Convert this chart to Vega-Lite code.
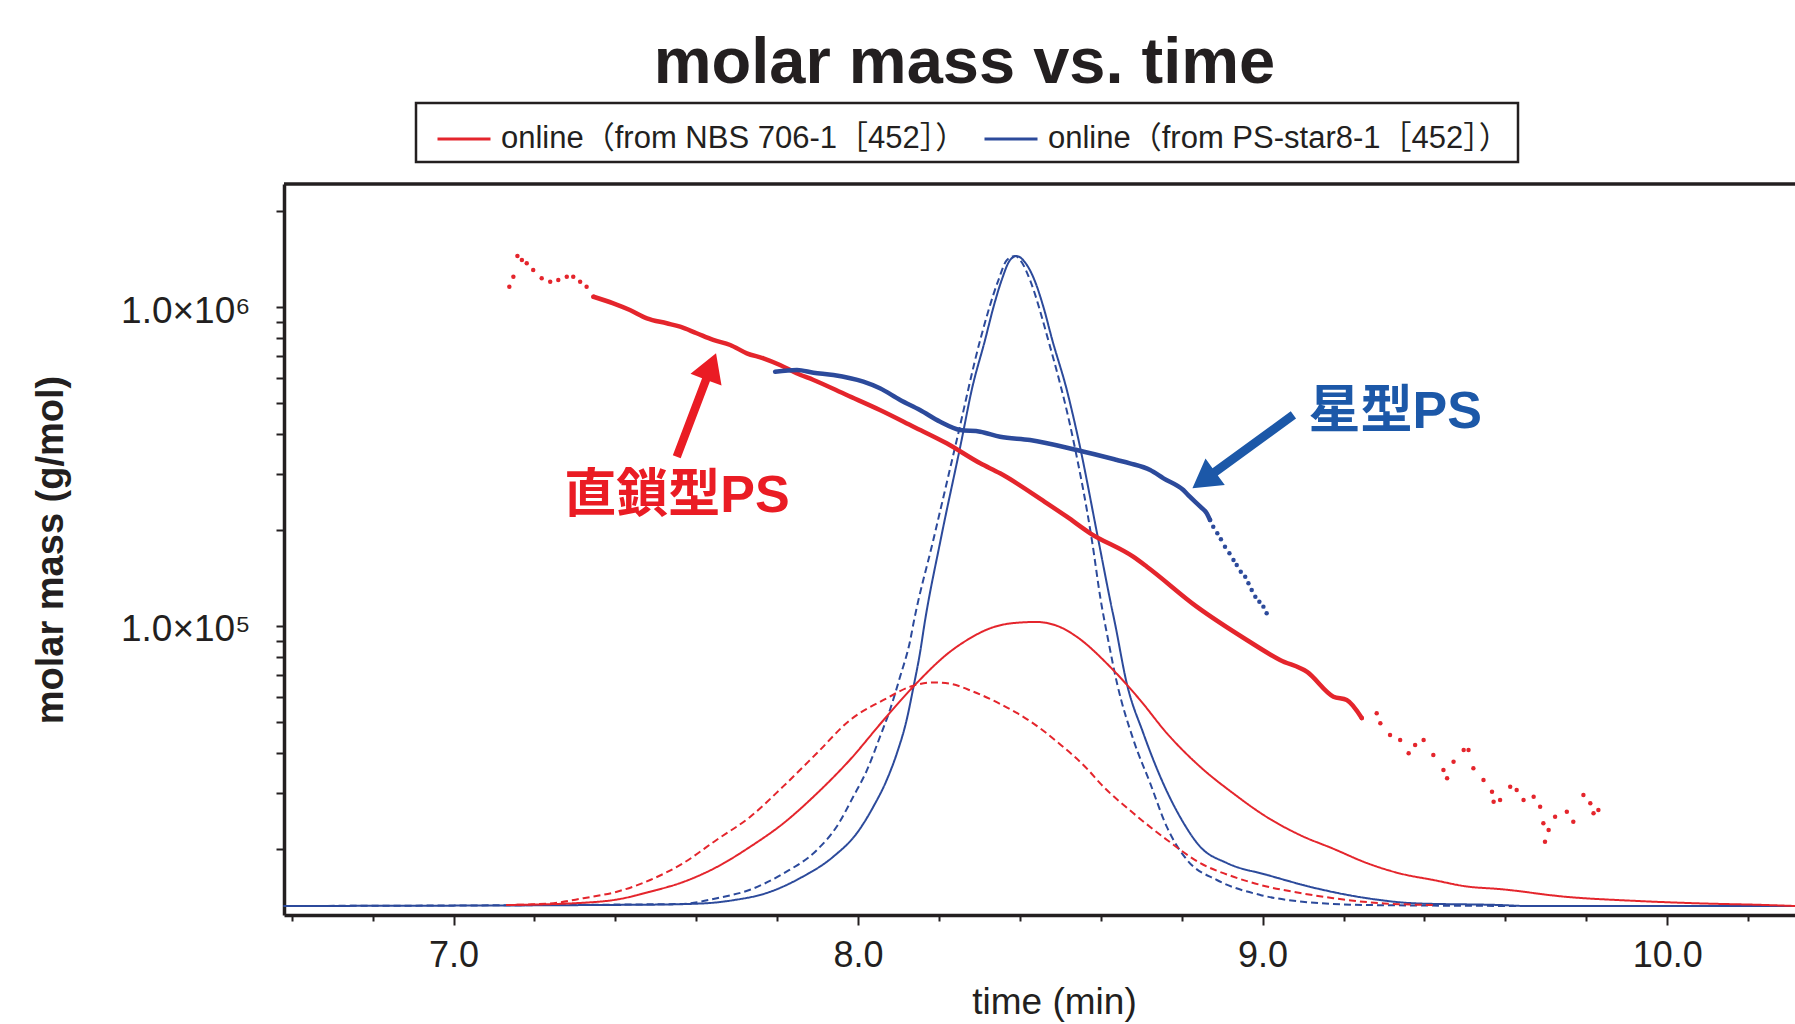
{
  "$schema": "https://vega.github.io/schema/vega-lite/v6.json",
  "width": 1511,
  "height": 731,
  "autosize": {"type": "none"},
  "padding": {"left": 284, "top": 184, "right": 0, "bottom": 109},
  "background": "white",
  "config": {"view": {"stroke": null}, "font": "Liberation Sans"},
  "title": {"text": "molar mass vs. time", "font": "Liberation Sans", "fontSize": 65, "fontWeight": "bold", "color": "#231f20", "anchor": "middle", "frame": "group", "dx": -75, "offset": 5},
  "datasets": {
    "sig": [
      {"sample":"PS-star8-1","trace":"A","t":6.58,"s":0},{"sample":"PS-star8-1","trace":"A","t":7.478,"s":0.002},{"sample":"PS-star8-1","trace":"A","t":7.618,"s":0.004},{"sample":"PS-star8-1","trace":"A","t":7.692,"s":0.009},{"sample":"PS-star8-1","trace":"A","t":7.774,"s":0.02},{"sample":"PS-star8-1","trace":"A","t":7.857,"s":0.043},{"sample":"PS-star8-1","trace":"A","t":7.939,"s":0.076},{"sample":"PS-star8-1","trace":"A","t":7.997,"s":0.112},{"sample":"PS-star8-1","trace":"A","t":8.038,"s":0.153},{"sample":"PS-star8-1","trace":"A","t":8.071,"s":0.194},{"sample":"PS-star8-1","trace":"A","t":8.096,"s":0.235},{"sample":"PS-star8-1","trace":"A","t":8.12,"s":0.286},{"sample":"PS-star8-1","trace":"A","t":8.137,"s":0.337},{"sample":"PS-star8-1","trace":"A","t":8.153,"s":0.389},{"sample":"PS-star8-1","trace":"A","t":8.165,"s":0.437},{"sample":"PS-star8-1","trace":"A","t":8.204,"s":0.563},{"sample":"PS-star8-1","trace":"A","t":8.256,"s":0.717},{"sample":"PS-star8-1","trace":"A","t":8.281,"s":0.794},{"sample":"PS-star8-1","trace":"A","t":8.314,"s":0.871},{"sample":"PS-star8-1","trace":"A","t":8.335,"s":0.922},{"sample":"PS-star8-1","trace":"A","t":8.355,"s":0.963},{"sample":"PS-star8-1","trace":"A","t":8.376,"s":0.994},{"sample":"PS-star8-1","trace":"A","t":8.392,"s":1.0},{"sample":"PS-star8-1","trace":"A","t":8.413,"s":0.99},{"sample":"PS-star8-1","trace":"A","t":8.438,"s":0.96},{"sample":"PS-star8-1","trace":"A","t":8.458,"s":0.922},{"sample":"PS-star8-1","trace":"A","t":8.48,"s":0.871},{"sample":"PS-star8-1","trace":"A","t":8.516,"s":0.794},{"sample":"PS-star8-1","trace":"A","t":8.545,"s":0.717},{"sample":"PS-star8-1","trace":"A","t":8.594,"s":0.563},{"sample":"PS-star8-1","trace":"A","t":8.623,"s":0.471},{"sample":"PS-star8-1","trace":"A","t":8.635,"s":0.435},{"sample":"PS-star8-1","trace":"A","t":8.664,"s":0.343},{"sample":"PS-star8-1","trace":"A","t":8.705,"s":0.266},{"sample":"PS-star8-1","trace":"A","t":8.747,"s":0.199},{"sample":"PS-star8-1","trace":"A","t":8.796,"s":0.137},{"sample":"PS-star8-1","trace":"A","t":8.846,"s":0.091},{"sample":"PS-star8-1","trace":"A","t":8.912,"s":0.066},{"sample":"PS-star8-1","trace":"A","t":9.01,"s":0.048},{"sample":"PS-star8-1","trace":"A","t":9.134,"s":0.027},{"sample":"PS-star8-1","trace":"A","t":9.258,"s":0.012},{"sample":"PS-star8-1","trace":"A","t":9.381,"s":0.004},{"sample":"PS-star8-1","trace":"A","t":9.587,"s":0.0015},{"sample":"PS-star8-1","trace":"A","t":9.654,"s":0},{"sample":"PS-star8-1","trace":"A","t":10.316,"s":0},
      {"sample":"PS-star8-1","trace":"B","t":6.58,"s":0},{"sample":"PS-star8-1","trace":"B","t":7.56,"s":0.003},{"sample":"PS-star8-1","trace":"B","t":7.651,"s":0.012},{"sample":"PS-star8-1","trace":"B","t":7.733,"s":0.025},{"sample":"PS-star8-1","trace":"B","t":7.815,"s":0.05},{"sample":"PS-star8-1","trace":"B","t":7.898,"s":0.086},{"sample":"PS-star8-1","trace":"B","t":7.947,"s":0.122},{"sample":"PS-star8-1","trace":"B","t":7.988,"s":0.168},{"sample":"PS-star8-1","trace":"B","t":8.022,"s":0.209},{"sample":"PS-star8-1","trace":"B","t":8.054,"s":0.26},{"sample":"PS-star8-1","trace":"B","t":8.079,"s":0.302},{"sample":"PS-star8-1","trace":"B","t":8.104,"s":0.353},{"sample":"PS-star8-1","trace":"B","t":8.129,"s":0.409},{"sample":"PS-star8-1","trace":"B","t":8.137,"s":0.435},{"sample":"PS-star8-1","trace":"B","t":8.186,"s":0.563},{"sample":"PS-star8-1","trace":"B","t":8.244,"s":0.717},{"sample":"PS-star8-1","trace":"B","t":8.302,"s":0.871},{"sample":"PS-star8-1","trace":"B","t":8.347,"s":0.963},{"sample":"PS-star8-1","trace":"B","t":8.368,"s":0.994},{"sample":"PS-star8-1","trace":"B","t":8.388,"s":1.0},{"sample":"PS-star8-1","trace":"B","t":8.405,"s":0.99},{"sample":"PS-star8-1","trace":"B","t":8.425,"s":0.963},{"sample":"PS-star8-1","trace":"B","t":8.47,"s":0.871},{"sample":"PS-star8-1","trace":"B","t":8.532,"s":0.717},{"sample":"PS-star8-1","trace":"B","t":8.578,"s":0.563},{"sample":"PS-star8-1","trace":"B","t":8.6,"s":0.47},{"sample":"PS-star8-1","trace":"B","t":8.618,"s":0.41},{"sample":"PS-star8-1","trace":"B","t":8.64,"s":0.343},{"sample":"PS-star8-1","trace":"B","t":8.681,"s":0.255},{"sample":"PS-star8-1","trace":"B","t":8.722,"s":0.189},{"sample":"PS-star8-1","trace":"B","t":8.763,"s":0.122},{"sample":"PS-star8-1","trace":"B","t":8.813,"s":0.071},{"sample":"PS-star8-1","trace":"B","t":8.887,"s":0.04},{"sample":"PS-star8-1","trace":"B","t":8.994,"s":0.017},{"sample":"PS-star8-1","trace":"B","t":9.093,"s":0.007},{"sample":"PS-star8-1","trace":"B","t":9.258,"s":0.0015},{"sample":"PS-star8-1","trace":"B","t":9.66,"s":0},
      {"sample":"NBS 706-1","trace":"A","t":7.13,"s":0.0015},{"sample":"NBS 706-1","trace":"A","t":7.321,"s":0.005},{"sample":"NBS 706-1","trace":"A","t":7.404,"s":0.01},{"sample":"NBS 706-1","trace":"A","t":7.486,"s":0.022},{"sample":"NBS 706-1","trace":"A","t":7.568,"s":0.037},{"sample":"NBS 706-1","trace":"A","t":7.651,"s":0.06},{"sample":"NBS 706-1","trace":"A","t":7.733,"s":0.091},{"sample":"NBS 706-1","trace":"A","t":7.815,"s":0.127},{"sample":"NBS 706-1","trace":"A","t":7.898,"s":0.173},{"sample":"NBS 706-1","trace":"A","t":7.98,"s":0.225},{"sample":"NBS 706-1","trace":"A","t":8.063,"s":0.286},{"sample":"NBS 706-1","trace":"A","t":8.145,"s":0.343},{"sample":"NBS 706-1","trace":"A","t":8.227,"s":0.391},{"sample":"NBS 706-1","trace":"A","t":8.269,"s":0.409},{"sample":"NBS 706-1","trace":"A","t":8.33,"s":0.428},{"sample":"NBS 706-1","trace":"A","t":8.38,"s":0.435},{"sample":"NBS 706-1","trace":"A","t":8.44,"s":0.437},{"sample":"NBS 706-1","trace":"A","t":8.5,"s":0.429},{"sample":"NBS 706-1","trace":"A","t":8.541,"s":0.414},{"sample":"NBS 706-1","trace":"A","t":8.623,"s":0.368},{"sample":"NBS 706-1","trace":"A","t":8.697,"s":0.317},{"sample":"NBS 706-1","trace":"A","t":8.763,"s":0.266},{"sample":"NBS 706-1","trace":"A","t":8.846,"s":0.214},{"sample":"NBS 706-1","trace":"A","t":8.928,"s":0.173},{"sample":"NBS 706-1","trace":"A","t":9.01,"s":0.137},{"sample":"NBS 706-1","trace":"A","t":9.093,"s":0.109},{"sample":"NBS 706-1","trace":"A","t":9.175,"s":0.088},{"sample":"NBS 706-1","trace":"A","t":9.258,"s":0.066},{"sample":"NBS 706-1","trace":"A","t":9.34,"s":0.05},{"sample":"NBS 706-1","trace":"A","t":9.422,"s":0.04},{"sample":"NBS 706-1","trace":"A","t":9.505,"s":0.03},{"sample":"NBS 706-1","trace":"A","t":9.587,"s":0.026},{"sample":"NBS 706-1","trace":"A","t":9.752,"s":0.014},{"sample":"NBS 706-1","trace":"A","t":9.917,"s":0.008},{"sample":"NBS 706-1","trace":"A","t":10.082,"s":0.004},{"sample":"NBS 706-1","trace":"A","t":10.246,"s":0.0015},{"sample":"NBS 706-1","trace":"A","t":10.316,"s":0},
      {"sample":"NBS 706-1","trace":"B","t":7.13,"s":0.0015},{"sample":"NBS 706-1","trace":"B","t":7.239,"s":0.004},{"sample":"NBS 706-1","trace":"B","t":7.321,"s":0.012},{"sample":"NBS 706-1","trace":"B","t":7.404,"s":0.022},{"sample":"NBS 706-1","trace":"B","t":7.486,"s":0.04},{"sample":"NBS 706-1","trace":"B","t":7.568,"s":0.066},{"sample":"NBS 706-1","trace":"B","t":7.651,"s":0.102},{"sample":"NBS 706-1","trace":"B","t":7.733,"s":0.137},{"sample":"NBS 706-1","trace":"B","t":7.815,"s":0.184},{"sample":"NBS 706-1","trace":"B","t":7.898,"s":0.235},{"sample":"NBS 706-1","trace":"B","t":7.98,"s":0.286},{"sample":"NBS 706-1","trace":"B","t":8.063,"s":0.317},{"sample":"NBS 706-1","trace":"B","t":8.137,"s":0.339},{"sample":"NBS 706-1","trace":"B","t":8.186,"s":0.344},{"sample":"NBS 706-1","trace":"B","t":8.227,"s":0.342},{"sample":"NBS 706-1","trace":"B","t":8.284,"s":0.33},{"sample":"NBS 706-1","trace":"B","t":8.351,"s":0.311},{"sample":"NBS 706-1","trace":"B","t":8.426,"s":0.284},{"sample":"NBS 706-1","trace":"B","t":8.497,"s":0.25},{"sample":"NBS 706-1","trace":"B","t":8.568,"s":0.21},{"sample":"NBS 706-1","trace":"B","t":8.598,"s":0.189},{"sample":"NBS 706-1","trace":"B","t":8.68,"s":0.143},{"sample":"NBS 706-1","trace":"B","t":8.763,"s":0.102},{"sample":"NBS 706-1","trace":"B","t":8.846,"s":0.066},{"sample":"NBS 706-1","trace":"B","t":8.928,"s":0.045},{"sample":"NBS 706-1","trace":"B","t":9.01,"s":0.03},{"sample":"NBS 706-1","trace":"B","t":9.093,"s":0.02},{"sample":"NBS 706-1","trace":"B","t":9.175,"s":0.012},{"sample":"NBS 706-1","trace":"B","t":9.299,"s":0.004},{"sample":"NBS 706-1","trace":"B","t":9.422,"s":0.0015}
    ],
    "mm": [
      {"sample":"NBS 706-1","t":7.138,"M":1158000},{"sample":"NBS 706-1","t":7.148,"M":1245000},{"sample":"NBS 706-1","t":7.158,"M":1445000},{"sample":"NBS 706-1","t":7.169,"M":1404000},{"sample":"NBS 706-1","t":7.181,"M":1371000},{"sample":"NBS 706-1","t":7.197,"M":1306000},{"sample":"NBS 706-1","t":7.218,"M":1230000},{"sample":"NBS 706-1","t":7.239,"M":1200000},{"sample":"NBS 706-1","t":7.259,"M":1215000},{"sample":"NBS 706-1","t":7.28,"M":1245000},{"sample":"NBS 706-1","t":7.296,"M":1245000},{"sample":"NBS 706-1","t":7.313,"M":1200000},{"sample":"NBS 706-1","t":7.329,"M":1158000},{"sample":"NBS 706-1","t":7.346,"M":1077000},{"sample":"NBS 706-1","t":7.395,"M":1027000},{"sample":"NBS 706-1","t":7.436,"M":978600},{"sample":"NBS 706-1","t":7.478,"M":921700},{"sample":"NBS 706-1","t":7.527,"M":889000},{"sample":"NBS 706-1","t":7.56,"M":867500},{"sample":"NBS 706-1","t":7.601,"M":827300},{"sample":"NBS 706-1","t":7.642,"M":788300},{"sample":"NBS 706-1","t":7.684,"M":760300},{"sample":"NBS 706-1","t":7.725,"M":715900},{"sample":"NBS 706-1","t":7.766,"M":690500},{"sample":"NBS 706-1","t":7.807,"M":658000},{"sample":"NBS 706-1","t":7.848,"M":619800},{"sample":"NBS 706-1","t":7.89,"M":590500},{"sample":"NBS 706-1","t":7.972,"M":529800},{"sample":"NBS 706-1","t":8.054,"M":475500},{"sample":"NBS 706-1","t":8.137,"M":421500},{"sample":"NBS 706-1","t":8.219,"M":373900},{"sample":"NBS 706-1","t":8.302,"M":323600},{"sample":"NBS 706-1","t":8.351,"M":301100},{"sample":"NBS 706-1","t":8.467,"M":242400},{"sample":"NBS 706-1","t":8.516,"M":220100},{"sample":"NBS 706-1","t":8.574,"M":195300},{"sample":"NBS 706-1","t":8.68,"M":164900},{"sample":"NBS 706-1","t":8.714,"M":153400},{"sample":"NBS 706-1","t":8.837,"M":115000},{"sample":"NBS 706-1","t":8.961,"M":90400},{"sample":"NBS 706-1","t":9.043,"M":78250},{"sample":"NBS 706-1","t":9.11,"M":71760},{"sample":"NBS 706-1","t":9.175,"M":60030},{"sample":"NBS 706-1","t":9.208,"M":58610},{"sample":"NBS 706-1","t":9.245,"M":51470},{"sample":"NBS 706-1","t":9.282,"M":53240},{"sample":"NBS 706-1","t":9.291,"M":49550},{"sample":"NBS 706-1","t":9.315,"M":45530},{"sample":"NBS 706-1","t":9.34,"M":43920},{"sample":"NBS 706-1","t":9.361,"M":39900},{"sample":"NBS 706-1","t":9.377,"M":42360},{"sample":"NBS 706-1","t":9.398,"M":43920},{"sample":"NBS 706-1","t":9.422,"M":39410},{"sample":"NBS 706-1","t":9.447,"M":35370},{"sample":"NBS 706-1","t":9.456,"M":33310},{"sample":"NBS 706-1","t":9.472,"M":37550},{"sample":"NBS 706-1","t":9.497,"M":40870},{"sample":"NBS 706-1","t":9.509,"M":40870},{"sample":"NBS 706-1","t":9.521,"M":35800},{"sample":"NBS 706-1","t":9.546,"M":32900},{"sample":"NBS 706-1","t":9.567,"M":30250},{"sample":"NBS 706-1","t":9.571,"M":28130},{"sample":"NBS 706-1","t":9.587,"M":28480},{"sample":"NBS 706-1","t":9.612,"M":31350},{"sample":"NBS 706-1","t":9.628,"M":30610},{"sample":"NBS 706-1","t":9.645,"M":28480},{"sample":"NBS 706-1","t":9.67,"M":29170},{"sample":"NBS 706-1","t":9.686,"M":27140},{"sample":"NBS 706-1","t":9.694,"M":24070},{"sample":"NBS 706-1","t":9.698,"M":21080},{"sample":"NBS 706-1","t":9.707,"M":22930},{"sample":"NBS 706-1","t":9.723,"M":25250},{"sample":"NBS 706-1","t":9.752,"M":26170},{"sample":"NBS 706-1","t":9.768,"M":24350},{"sample":"NBS 706-1","t":9.793,"M":29530},{"sample":"NBS 706-1","t":9.81,"M":27810},{"sample":"NBS 706-1","t":9.818,"M":25880},{"sample":"NBS 706-1","t":9.83,"M":26500},
      {"sample":"PS-star8-1","t":7.795,"M":627000},{"sample":"PS-star8-1","t":7.849,"M":634600},{"sample":"PS-star8-1","t":7.89,"M":622300},{"sample":"PS-star8-1","t":7.939,"M":612100},{"sample":"PS-star8-1","t":8.013,"M":583200},{"sample":"PS-star8-1","t":8.054,"M":556100},{"sample":"PS-star8-1","t":8.104,"M":511100},{"sample":"PS-star8-1","t":8.153,"M":475500},{"sample":"PS-star8-1","t":8.203,"M":436900},{"sample":"PS-star8-1","t":8.252,"M":411600},{"sample":"PS-star8-1","t":8.302,"M":406600},{"sample":"PS-star8-1","t":8.351,"M":392200},{"sample":"PS-star8-1","t":8.425,"M":382900},{"sample":"PS-star8-1","t":8.541,"M":356200},{"sample":"PS-star8-1","t":8.64,"M":331500},{"sample":"PS-star8-1","t":8.672,"M":323600},{"sample":"PS-star8-1","t":8.722,"M":308300},{"sample":"PS-star8-1","t":8.755,"M":290400},{"sample":"PS-star8-1","t":8.804,"M":266900},{"sample":"PS-star8-1","t":8.82,"M":254300},{"sample":"PS-star8-1","t":8.846,"M":236600},{"sample":"PS-star8-1","t":8.862,"M":225600},{"sample":"PS-star8-1","t":8.87,"M":214900},{"sample":"PS-star8-1","t":8.878,"M":204800},{"sample":"PS-star8-1","t":8.888,"M":195300},{"sample":"PS-star8-1","t":8.897,"M":187000},{"sample":"PS-star8-1","t":8.907,"M":177300},{"sample":"PS-star8-1","t":8.918,"M":169000},{"sample":"PS-star8-1","t":8.928,"M":161000},{"sample":"PS-star8-1","t":8.936,"M":155300},{"sample":"PS-star8-1","t":8.946,"M":148000},{"sample":"PS-star8-1","t":8.957,"M":142700},{"sample":"PS-star8-1","t":8.965,"M":136100},{"sample":"PS-star8-1","t":8.973,"M":129700},{"sample":"PS-star8-1","t":8.982,"M":123600},{"sample":"PS-star8-1","t":8.992,"M":119200},{"sample":"PS-star8-1","t":9.002,"M":115000},{"sample":"PS-star8-1","t":9.01,"M":109600}
    ]
  },
  "layer": [
    {
      "data": {"name": "sig"},
      "mark": {"type": "line", "strokeWidth": 2, "interpolate": "monotone"},
      "encoding": {
        "x": {"field": "t", "type": "quantitative", "scale": {"domain": [6.581, 10.316], "nice": false, "zero": false},
          "axis": {"orient": "bottom", "values": [6.6,6.8,7.0,7.2,7.4,7.6,7.8,8.0,8.2,8.4,8.6,8.8,9.0,9.2,9.4,9.6,9.8,10.0,10.2],
            "labelExpr": "abs(datum.value - round(datum.value)) < 0.01 ? format(datum.value, '.1f') : ''",
            "labelFont": "Liberation Sans", "labelFontSize": 36, "labelColor": "#231f20", "labelPadding": 13, "labelOverlap": false, "labelFlush": false,
            "tickSize": {"condition": {"test": "abs(datum.value - round(datum.value)) < 0.01", "value": 10}, "value": 6},
            "tickWidth": 2, "tickColor": "#231f20", "domainWidth": 3.5, "domainColor": "#231f20", "grid": false,
            "title": "time (min)", "titleFont": "Liberation Sans", "titleFontSize": 37, "titleFontWeight": "normal", "titleColor": "#231f20", "titlePadding": 11, "titleX": 770}},
        "y": {"field": "s", "type": "quantitative", "scale": {"domain": [-0.01385, 1.1108], "nice": false, "zero": false}, "axis": null},
        "color": {"field": "sample", "type": "nominal",
          "scale": {"domain": ["NBS 706-1", "PS-star8-1"], "range": ["#e4252c", "#2c4a9b"]},
          "legend": {"orient": "none", "legendX": 132, "legendY": -81, "direction": "horizontal", "title": null,
            "labelExpr": "'online（from ' + datum.label + '［452］）'",
            "labelFont": "Liberation Sans, Noto Sans CJK JP", "labelFontSize": 31, "labelColor": "#231f20", "labelLimit": 0,
            "symbolType": "stroke", "symbolSize": 2809, "symbolStrokeWidth": 3,
            "strokeColor": "#231f20", "fillColor": "white", "padding": 8, "columnPadding": 4, "labelOffset": 9, "symbolOffset": 12,
            "encode": {"legend": {"update": {"strokeWidth": {"value": 2.5}}}}}},
        "strokeDash": {"field": "trace", "type": "nominal", "scale": {"domain": ["A", "B"], "range": [[1, 0], [7, 4]]}, "legend": null}
      }
    },
    {
      "layer": [
        {
          "data": {"name": "mm"},
          "transform": [{"filter": "(datum.sample == 'NBS 706-1' && datum.t >= 7.346 && datum.t <= 9.245) || (datum.sample == 'PS-star8-1' && datum.t <= 8.87)"}],
          "mark": {"type": "line", "strokeWidth": 4.5, "strokeCap": "round", "strokeJoin": "round", "interpolate": "monotone"},
          "encoding": {
            "x": {"field": "t", "type": "quantitative", "scale": {"domain": [6.581, 10.316], "nice": false, "zero": false}},
            "y": {"field": "M", "type": "quantitative", "scale": {"type": "log", "domain": [12417, 2430000], "nice": false},
              "axis": {"orient": "left", "values": [20000,30000,40000,50000,60000,70000,80000,90000,100000,200000,300000,400000,500000,600000,700000,800000,900000,1000000,2000000],
                "labelExpr": "datum.value == 1000000 ? '1.0×10⁶' : (datum.value == 100000 ? '1.0×10⁵' : '')",
                "labelFont": "Liberation Sans, DejaVu Sans", "labelFontSize": 37, "labelColor": "#231f20", "labelPadding": 26, "labelOverlap": false, "labelOffset": 4,
                "tickSize": 8, "tickWidth": 2, "tickColor": "#231f20", "domainWidth": 3.5, "domainColor": "#231f20", "grid": false,
                "title": "molar mass (g/mol)", "titleFont": "Liberation Sans", "titleFontSize": 38, "titleFontWeight": "bold", "titleColor": "#231f20", "titlePadding": 50}},
            "color": {"field": "sample", "type": "nominal", "legend": null}
          }
        },
        {
          "data": {"name": "mm"},
          "transform": [{"filter": "(datum.sample == 'NBS 706-1' && (datum.t <= 7.346 || datum.t >= 9.245)) || (datum.sample == 'PS-star8-1' && datum.t >= 8.87)"}],
          "mark": {"type": "point", "filled": true, "size": 20, "opacity": 1},
          "encoding": {
            "x": {"field": "t", "type": "quantitative", "scale": {"domain": [6.581, 10.316], "nice": false, "zero": false}},
            "y": {"field": "M", "type": "quantitative", "scale": {"type": "log", "domain": [12417, 2430000], "nice": false}},
            "color": {"field": "sample", "type": "nominal", "legend": null}
          }
        },
        {
          "data": {"values": [{}]},
          "mark": {"type": "rule", "strokeWidth": 3.5, "color": "#231f20"},
          "encoding": {"y": {"datum": 2430000, "type": "quantitative", "scale": {"type": "log", "domain": [12417, 2430000], "nice": false}}}
        },
        {
          "data": {"values": [{"label": "直鎖型PS", "t": 7.5525, "M": 255000}]},
          "mark": {"type": "text", "font": "Liberation Sans, Noto Sans CJK JP", "fontWeight": "bold", "fontSize": 52, "color": "#ea1c24", "align": "center", "baseline": "middle"},
          "encoding": {
            "x": {"field": "t", "type": "quantitative", "scale": {"domain": [6.581, 10.316], "nice": false, "zero": false}},
            "y": {"field": "M", "type": "quantitative", "scale": {"type": "log", "domain": [12417, 2430000], "nice": false}},
            "text": {"field": "label"}
          }
        },
        {
          "data": {"values": [{"label": "星型PS", "t": 9.3276, "M": 468000}]},
          "mark": {"type": "text", "font": "Liberation Sans, Noto Sans CJK JP", "fontWeight": "bold", "fontSize": 52, "color": "#1c58a8", "align": "center", "baseline": "middle"},
          "encoding": {
            "x": {"field": "t", "type": "quantitative", "scale": {"domain": [6.581, 10.316], "nice": false, "zero": false}},
            "y": {"field": "M", "type": "quantitative", "scale": {"type": "log", "domain": [12417, 2430000], "nice": false}},
            "text": {"field": "label"}
          }
        },
        {
          "data": {"values": [{"t": 7.6004, "M": 493000}]},
          "mark": {"type": "point", "filled": true, "color": "#ea1c24", "opacity": 1, "strokeWidth": 0, "size": 12232, "angle": 20.8,
            "shape": "M0,-1 L0.3,-0.49 L0.076,-0.49 L0.076,1 L-0.076,1 L-0.076,-0.49 L-0.3,-0.49 Z"},
          "encoding": {
            "x": {"field": "t", "type": "quantitative", "scale": {"domain": [6.581, 10.316], "nice": false, "zero": false}},
            "y": {"field": "M", "type": "quantitative", "scale": {"type": "log", "domain": [12417, 2430000], "nice": false}}
          }
        },
        {
          "data": {"values": [{"t": 8.9513, "M": 352000}]},
          "mark": {"type": "point", "filled": true, "color": "#1c58a8", "opacity": 1, "strokeWidth": 0, "size": 15575, "angle": 234,
            "shape": "M0,-1 L0.263,-0.55 L0.072,-0.55 L0.072,1 L-0.072,1 L-0.072,-0.55 L-0.263,-0.55 Z"},
          "encoding": {
            "x": {"field": "t", "type": "quantitative", "scale": {"domain": [6.581, 10.316], "nice": false, "zero": false}},
            "y": {"field": "M", "type": "quantitative", "scale": {"type": "log", "domain": [12417, 2430000], "nice": false}}
          }
        }
      ]
    }
  ],
  "resolve": {"scale": {"y": "independent"}}
}
